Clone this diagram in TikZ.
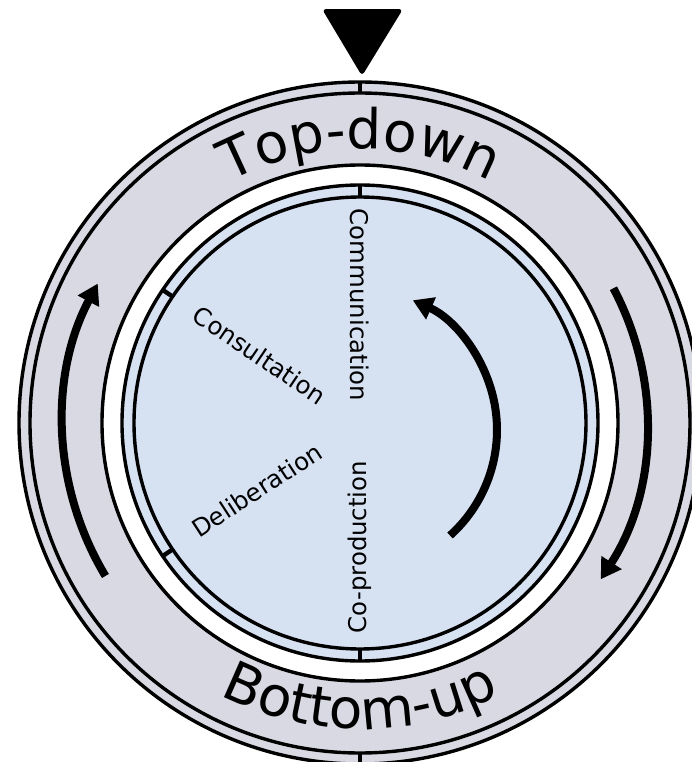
\documentclass[tikz,border=0pt]{standalone}
\usepackage{fontspec}
\setmainfont{DejaVu Sans}
\usetikzlibrary{arrows.meta,decorations.text}
\definecolor{ringgrey}{RGB}{217,217,227}
\definecolor{coreblue}{RGB}{214,225,242}

\begin{document}
\begin{tikzpicture}[
  x=0.5pt, y=0.5pt,
  ring/.style={draw=black, line width=1.7pt},
  tick/.style={line width=2.2pt},
  turn/.style={-{Triangle[length=10pt,width=11.5pt]}, line width=4pt},
  spoke/.style={font=\fontsize{12.2}{14}\selectfont, inner sep=0pt},
  arctext/.style={decorate, decoration={text along path, text align=center,
                  text={|\fontsize{27.5}{30}\selectfont|#1}}}
]
\useasboundingbox (-360,-339) rectangle (332,423);
\clip (-360,-339) rectangle (332,423);

% rings
\fill[ringgrey] (0,0) circle[radius=341];
\draw[ring] (0,0) circle[radius=341];
\draw[ring] (0,0) circle[radius=330];
\filldraw[ring, fill=white] (0,0) circle[radius=258];
\filldraw[ring, fill=coreblue] (0,0) circle[radius=238];
\draw[ring] (0,0) circle[radius=226];

% ticks
\foreach \a in {90,270} \draw[tick] (\a:330) -- (\a:341);
\foreach \a in {90,146,214,270} \draw[tick] (\a:226) -- (\a:238);

% pointer
\fill[rounded corners=2pt] (-38,414) -- (43,414) -- (2,347) -- cycle;

% band texts
\path[arctext={Top-down}] (150:274) arc[start angle=150, end angle=30, radius=274];
\path[arctext={Bottom-up}] (215:306) arc[start angle=215, end angle=325, radius=306];

% direction arrows
\draw[turn] (211:297) arc[start angle=211, end angle=152, radius=297];
\draw[turn] (28:287) arc[start angle=28, end angle=-33, radius=287];
\draw[turn] (-5,-7) ++(-48:142) arc[start angle=-48, end angle=66, radius=142];

% spokes
\node[spoke, rotate=-90] (communication) at (90:118) {Communication};
\node[spoke, rotate=-34] (consultation) at (146:121) {Consultation};
\node[spoke, rotate=33] (deliberation) at (213:123) {Deliberation};
\node[spoke, rotate=90] (coproduction) at (270:124) {Co-production};
\end{tikzpicture}
\end{document}
